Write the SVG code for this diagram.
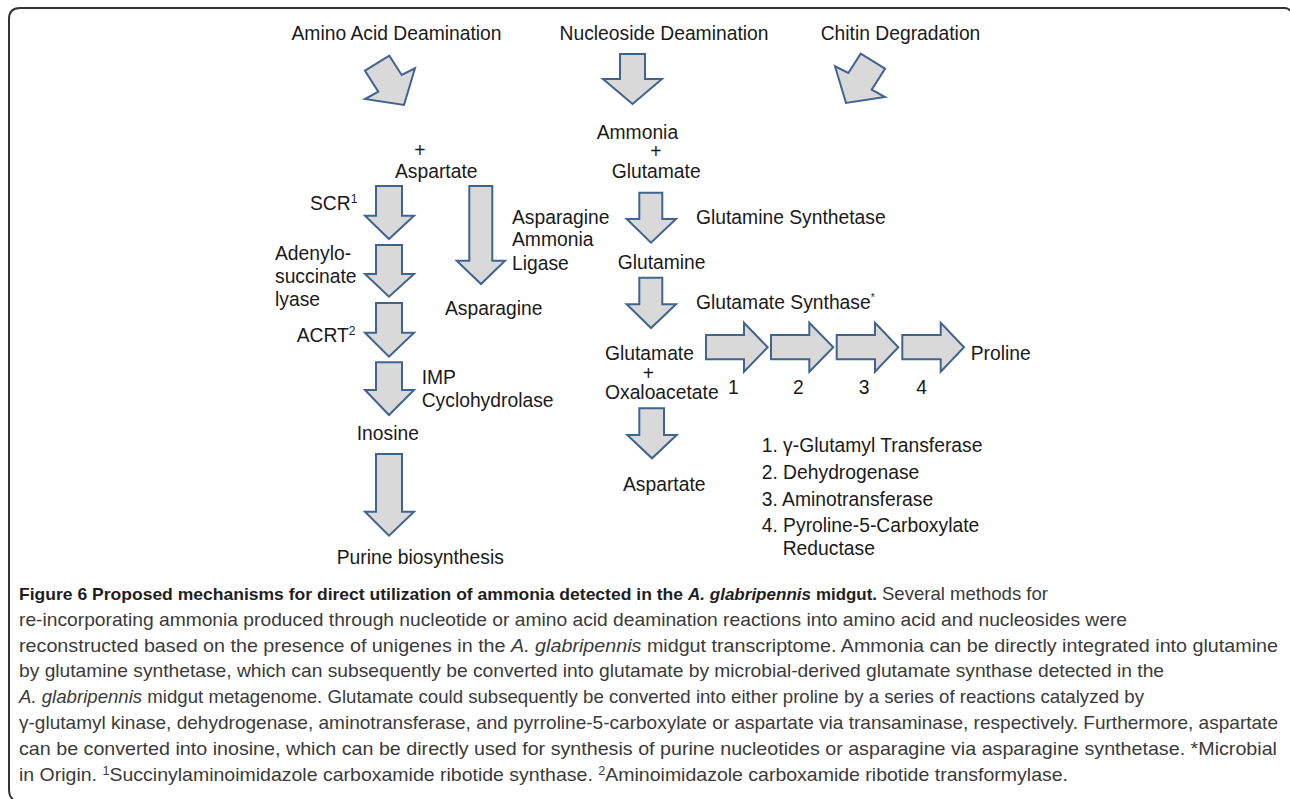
<svg xmlns="http://www.w3.org/2000/svg" width="1290" height="799" viewBox="0 0 1290 799">
<style>
.t{font-family:"Liberation Sans",Arial,sans-serif;font-size:19.3px;fill:#1a1a1a}
.m{text-anchor:middle}
.ar{fill:#d9d9d9;stroke:#41648e;stroke-width:2;stroke-linejoin:miter}
.cap{font-family:"Liberation Sans",Arial,sans-serif;font-size:18.5px;fill:#3a3a3a}
.b{font-family:"Liberation Sans",Arial,sans-serif;font-size:17px;font-weight:bold;fill:#1e1e1e}
.i{font-style:italic}
.frame{fill:none;stroke:#333;stroke-width:2}
</style>
<rect width="1290" height="799" fill="#fff"/>
<path class="frame" d="M1286,8 L20,8 Q9,8 9,19 L9,789 Q9,797 13,799"/>
<path class="frame" d="M1284,8 Q1289,8 1290,11"/>

<g id="connectors">
  <polygon class="ar" points="365,70.7 389.3,55.7 401.7,75 415,68.3 404,105 365,99 378.3,91.7"/>
  <polygon class="ar" points="620,54 645,54 645,79 662,79 632.5,104 603,79 620,79"/>
  <polygon class="ar" points="885,68.7 860.7,53.7 848.3,73 835,66.3 846,103 885,97 871.7,89.7"/>
  <polygon class="ar" points="376,186 402,186 402,215.7 414,215.7 389,239 365,215.7 376,215.7"/>
  <polygon class="ar" points="376,245 402,245 402,274 414,274 389,296.7 365,274 376,274"/>
  <polygon class="ar" points="376,303 402,303 402,332.7 414,332.7 389,356.7 365,332.7 376,332.7"/>
  <polygon class="ar" points="376,362.3 402,362.3 402,390 414,390 389,415 365,390 376,390"/>
  <polygon class="ar" points="376,454 402,454 402,511.7 414,511.7 389,535.7 365,511.7 376,511.7"/>
  <polygon class="ar" points="469.3,186 492.3,186 492.3,260.7 505,260.7 481,284 456.7,260.7 469.3,260.7"/>
  <polygon class="ar" points="639.3,192.7 662.3,192.7 662.3,219 676,219 651,242.7 626.7,219 639.3,219"/>
  <polygon class="ar" points="639.3,277.7 662.3,277.7 662.3,304.3 676,304.3 651,328 626.7,304.3 639.3,304.3"/>
  <polygon class="ar" points="639.3,408.3 664,408.3 664,435 676.7,435 652,458.3 627.3,435 639.3,435"/>
  <polygon class="ar" points="706,335 744,335 744,322.7 767.7,347.3 744,371.7 744,359.3 706,359.3"/>
  <polygon class="ar" points="771,335 809.3,335 809.3,322.7 833.3,347.3 809.3,371.7 809.3,359.3 771,359.3"/>
  <polygon class="ar" points="836.7,335 875,335 875,322.7 898.3,347.3 875,371.7 875,359.3 836.7,359.3"/>
  <polygon class="ar" points="902.3,335 940.7,335 940.7,322.7 964,347.3 940.7,371.7 940.7,359.3 902.3,359.3"/>
</g>

<g id="amino-acid-deamination"><text class="t m" x="396.5" y="40">Amino Acid Deamination</text></g>
<g id="nucleoside-deamination"><text class="t m" x="664" y="40">Nucleoside Deamination</text></g>
<g id="chitin-degradation"><text class="t m" x="900.5" y="40">Chitin Degradation</text></g>

<g id="aspartate-top">
  <text class="t m" x="420" y="157">+</text>
  <text class="t" x="395" y="178">Aspartate</text>
</g>
<g id="scr"><text class="t" x="310" y="210">SCR<tspan font-size="12" dy="-7">1</tspan></text></g>
<g id="adenylosuccinate-lyase">
  <text class="t" x="275" y="260">Adenylo-</text>
  <text class="t" x="275" y="283">succinate</text>
  <text class="t" x="275" y="306">lyase</text>
</g>
<g id="asparagine-ammonia-ligase">
  <text class="t" x="512" y="224">Asparagine</text>
  <text class="t" x="512" y="246">Ammonia</text>
  <text class="t" x="512" y="270">Ligase</text>
</g>
<g id="asparagine"><text class="t" x="445" y="315">Asparagine</text></g>
<g id="acrt"><text class="t" x="296.7" y="342">ACRT<tspan font-size="12" dy="-7">2</tspan></text></g>
<g id="imp-cyclohydrolase">
  <text class="t" x="421.7" y="384">IMP</text>
  <text class="t" x="421.7" y="407">Cyclohydrolase</text>
</g>
<g id="inosine"><text class="t" x="356.7" y="440">Inosine</text></g>
<g id="purine-biosynthesis"><text class="t" x="336.7" y="564">Purine biosynthesis</text></g>

<g id="ammonia-glutamate">
  <text class="t" x="596.7" y="139">Ammonia</text>
  <text class="t m" x="656" y="158">+</text>
  <text class="t" x="611.7" y="178">Glutamate</text>
</g>
<g id="glutamine-synthetase"><text class="t" x="696" y="224">Glutamine Synthetase</text></g>
<g id="glutamine"><text class="t" x="617.7" y="269">Glutamine</text></g>
<g id="glutamate-synthase"><text class="t" x="696" y="309">Glutamate Synthase<tspan font-size="10" dy="-8">*</tspan></text></g>
<g id="glutamate-oxaloacetate">
  <text class="t" x="605" y="360">Glutamate</text>
  <text class="t m" x="648.3" y="380">+</text>
  <text class="t" x="605" y="399">Oxaloacetate</text>
</g>
<g id="step-labels">
  <text class="t m" x="733.3" y="394">1</text>
  <text class="t m" x="798.3" y="394">2</text>
  <text class="t m" x="864" y="394">3</text>
  <text class="t m" x="921.7" y="394">4</text>
</g>
<g id="proline"><text class="t" x="970.7" y="360">Proline</text></g>
<g id="aspartate-bottom"><text class="t" x="623" y="491">Aspartate</text></g>
<g id="legend">
  <text class="t" x="761.7" y="452">1. γ-Glutamyl Transferase</text>
  <text class="t" x="761.7" y="479">2. Dehydrogenase</text>
  <text class="t" x="761.7" y="506">3. Aminotransferase</text>
  <text class="t" x="761.7" y="532">4. Pyroline-5-Carboxylate</text>
  <text class="t" x="782.7" y="555">Reductase</text>
</g>

<g id="caption">
  <text class="b" x="19" y="600" textLength="664" lengthAdjust="spacingAndGlyphs">Figure 6 Proposed mechanisms for direct utilization of ammonia detected in the</text>
  <text class="b i" x="688" y="600" textLength="123" lengthAdjust="spacingAndGlyphs">A. glabripennis</text>
  <text class="b" x="816" y="600" textLength="61" lengthAdjust="spacingAndGlyphs">midgut.</text>
  <text class="cap" x="882" y="600" textLength="166" lengthAdjust="spacingAndGlyphs">Several methods for</text>
  <text class="cap" x="19" y="626" textLength="1108" lengthAdjust="spacingAndGlyphs">re-incorporating ammonia produced through nucleotide or amino acid deamination reactions into amino acid and nucleosides were</text>
  <text class="cap" x="19" y="652" textLength="1259" lengthAdjust="spacingAndGlyphs">reconstructed based on the presence of unigenes in the <tspan class="i">A. glabripennis</tspan> midgut transcriptome. Ammonia can be directly integrated into glutamine</text>
  <text class="cap" x="19" y="677" textLength="1145" lengthAdjust="spacingAndGlyphs">by glutamine synthetase, which can subsequently be converted into glutamate by microbial-derived glutamate synthase detected in the</text>
  <text class="cap" x="19" y="703" textLength="1125" lengthAdjust="spacingAndGlyphs"><tspan class="i">A. glabripennis</tspan> midgut metagenome. Glutamate could subsequently be converted into either proline by a series of reactions catalyzed by</text>
  <text class="cap" x="19" y="729" textLength="1259" lengthAdjust="spacingAndGlyphs">γ-glutamyl kinase, dehydrogenase, aminotransferase, and pyrroline-5-carboxylate or aspartate via transaminase, respectively. Furthermore, aspartate</text>
  <text class="cap" x="19" y="755" textLength="1258" lengthAdjust="spacingAndGlyphs">can be converted into inosine, which can be directly used for synthesis of purine nucleotides or asparagine via asparagine synthetase. *Microbial</text>
  <text class="cap" x="19" y="781" textLength="1049" lengthAdjust="spacingAndGlyphs">in Origin. <tspan font-size="12" dy="-6">1</tspan><tspan dy="6">Succinylaminoimidazole carboxamide ribotide synthase. </tspan><tspan font-size="12" dy="-6">2</tspan><tspan dy="6">Aminoimidazole carboxamide ribotide transformylase.</tspan></text>
</g>
</svg>
